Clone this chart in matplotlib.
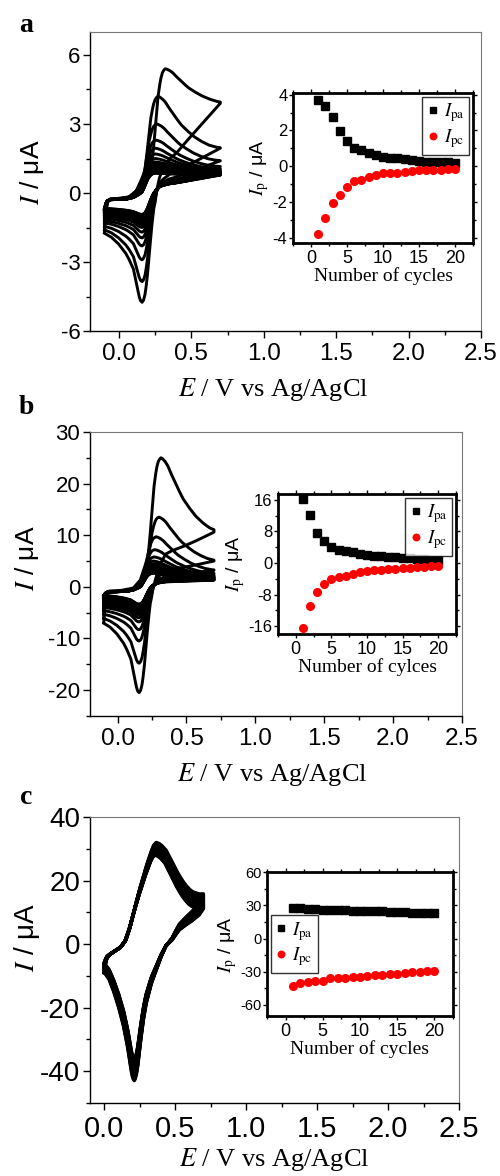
import numpy as np
import matplotlib
matplotlib.use('Agg')
import matplotlib.pyplot as plt
from matplotlib.ticker import MultipleLocator, FormatStrFormatter

plt.rcParams['font.family'] = ['Liberation Sans', 'DejaVu Sans']
plt.rcParams['mathtext.fontset'] = 'stix'
plt.rcParams['axes.unicode_minus'] = False

cycles = np.arange(1, 21)

# inset data: peak currents vs cycle number (uA)
ipa_a = [3.68, 3.37, 2.76, 1.96, 1.43, 1.01, 0.9, 0.72, 0.62, 0.51, 0.48, 0.44, 0.38, 0.33, 0.29, 0.25, 0.25, 0.22, 0.21, 0.19]
ipc_a = [-3.8, -2.88, -2.04, -1.6, -1.18, -0.82, -0.76, -0.63, -0.48, -0.4, -0.39, -0.38, -0.3, -0.26, -0.22, -0.21, -0.19, -0.19, -0.17, -0.15]
ipa_b = [16.2, 12.2, 7.7, 5.6, 4.1, 3.2, 3.1, 2.7, 2.4, 2.1, 1.9, 1.7, 1.6, 1.5, 1.4, 1.2, 1.1, 0.95, 0.85, 0.85]
ipc_b = [-16.6, -10.9, -7.3, -5.3, -4.1, -3.6, -3.2, -2.9, -2.4, -2.05, -1.7, -1.7, -1.55, -1.45, -1.35, -1.2, -1.0, -1.0, -0.85, -0.8]
ipa_c = [27.9, 27.3, 26.7, 26.4, 26.1, 26.1, 26.0, 25.5, 25.2, 24.8, 24.8, 24.5, 24.5, 24.2, 23.9, 23.6, 23.3, 23.0, 23.0, 22.7]
ipc_c = [-43.0, -40.3, -38.8, -38.5, -38.5, -36.0, -35.8, -35.2, -34.8, -34.5, -33.9, -33.3, -32.7, -32.4, -32.1, -31.2, -30.6, -30.3, -29.7, -29.4]

# CV readings per cycle: anodic peak, its potential, current at upper vertex,
# cathodic peak, current at lower vertex
cv_pa_a = [5.4, 4.2, 3.0, 2.3, 1.95, 1.7, 1.5, 1.35, 1.25, 1.17, 1.1, 1.05, 1.0, 0.97, 0.94, 0.92, 0.9, 0.88, 0.87, 0.86]
cv_epa_a = [0.32, 0.27, 0.26, 0.255, 0.25, 0.25, 0.25, 0.25, 0.25, 0.25, 0.25, 0.25, 0.25, 0.25, 0.25, 0.25, 0.25, 0.25, 0.25, 0.25]
cv_end_a = [3.9, 1.95, 1.4, 1.15, 1.05, 1.0, 0.95, 0.92, 0.9, 0.88, 0.86, 0.85, 0.84, 0.83, 0.82, 0.81, 0.8, 0.8, 0.79, 0.78]
cv_pc_a = [-4.75, -3.85, -2.9, -2.3, -1.95, -1.7, -1.5, -1.38, -1.28, -1.2, -1.14, -1.1, -1.06, -1.03, -1.0, -0.98, -0.96, -0.95, -0.94, -0.93]
cv_st_a = [-1.75, -1.6, -1.45, -1.3, -1.2, -1.1, -1.02, -0.96, -0.92, -0.88, -0.84, -0.81, -0.78, -0.76, -0.74, -0.72, -0.7, -0.69, -0.68, -0.67]

cv_pa_b = [25.0, 13.5, 9.7, 7.2, 5.8, 5.0, 4.5, 4.1, 3.8, 3.6, 3.4, 3.25, 3.1, 3.0, 2.9, 2.85, 2.8, 2.75, 2.7, 2.65]
cv_epa_b = [0.315, 0.3, 0.28, 0.27, 0.265, 0.26, 0.26, 0.26, 0.26, 0.26, 0.26, 0.26, 0.26, 0.26, 0.26, 0.26, 0.26, 0.26, 0.26, 0.26]
cv_end_b = [10.6, 5.0, 3.2, 2.6, 2.3, 2.1, 2.0, 1.9, 1.8, 1.75, 1.7, 1.65, 1.6, 1.55, 1.5, 1.45, 1.4, 1.4, 1.35, 1.3]
cv_pc_b = [-20.5, -14.8, -10.5, -8.3, -6.8, -6.0, -5.4, -5.0, -4.7, -4.4, -4.2, -4.0, -3.9, -3.8, -3.7, -3.6, -3.5, -3.45, -3.4, -3.35]
cv_st_b = [-7.0, -6.1, -5.3, -4.6, -4.0, -3.6, -3.3, -3.0, -2.8, -2.6, -2.4, -2.3, -2.2, -2.1, -2.0, -1.9, -1.8, -1.75, -1.7, -1.65]

cv_pa_c = [32.0, 31.7, 31.4, 31.1, 30.9, 30.7, 30.5, 30.3, 30.1, 29.9, 29.7, 29.5, 29.3, 29.1, 28.9, 28.7, 28.5, 28.3, 28.1, 28.0]
cv_epa_c = [0.366, 0.366, 0.365, 0.365, 0.364, 0.364, 0.363, 0.363, 0.362, 0.362, 0.361, 0.361, 0.36, 0.36, 0.36, 0.359, 0.359, 0.358, 0.358, 0.357]
cv_end_c = [15.8, 15.5, 15.2, 14.9, 14.6, 14.3, 14.0, 13.7, 13.4, 13.2, 13.0, 12.8, 12.6, 12.4, 12.2, 12.0, 11.8, 11.6, 11.4, 11.2]
cv_pc_c = [-43.0, -42.5, -42.0, -41.5, -41.0, -40.6, -40.2, -39.8, -39.4, -39.0, -38.7, -38.4, -38.1, -37.8, -37.5, -37.2, -36.9, -36.6, -36.3, -36.0]
cv_st_c = [-9.0, -8.8, -8.6, -8.4, -8.2, -8.0, -7.8, -7.6, -7.4, -7.3, -7.1, -7.0, -6.8, -6.7, -6.6, -6.5, -6.4, -6.3, -6.2, -6.1]

# wave shapes (normalised)
shape_ab = dict(
    rise_x=[-0.6, -0.3, -0.2, -0.15, -0.12, -0.1, -0.09, -0.08, -0.07, -0.06, -0.05, -0.04, -0.03, -0.02, -0.01, 0.0],
    rise_y=[0.0, 0.01, 0.03, 0.09, 0.18, 0.25, 0.3, 0.41, 0.54, 0.67, 0.79, 0.87, 0.93, 0.97, 0.99, 1.0],
    dec_x=[0.0, 0.01, 0.02, 0.03, 0.05, 0.07, 0.1, 0.13, 0.16, 0.2, 0.25, 0.3, 0.35, 0.4, 0.45, 0.6],
    dec_y=[1.0, 0.99, 0.97, 0.95, 0.89, 0.8, 0.68, 0.56, 0.45, 0.34, 0.22, 0.13, 0.06, 0.02, 0.0, 0.0],
    fall_x=[0.0, 0.01, 0.02, 0.03, 0.04, 0.05, 0.06, 0.07, 0.08, 0.1, 0.12, 0.15],
    fall_y=[1.0, 0.98, 0.93, 0.84, 0.72, 0.57, 0.42, 0.29, 0.18, 0.06, 0.01, 0.0],
    tail_x=[0.0, 0.01, 0.02, 0.04, 0.06, 0.085, 0.11, 0.16, 0.21, 0.26, 0.3],
    tail_y=[1.0, 0.98, 0.92, 0.72, 0.52, 0.4, 0.3, 0.16, 0.06, 0.0, 0.0],
)
shape_c = dict(
    rise_x=[-0.4, -0.366, -0.307, -0.248, -0.213, -0.184, -0.154, -0.118, -0.071, -0.036, -0.018, 0.0],
    rise_y=[0.0, 0.0, 0.05, 0.1, 0.16, 0.27, 0.42, 0.59, 0.79, 0.92, 0.975, 1.0],
    dec_x=[0.0, 0.02, 0.04, 0.07, 0.095, 0.117, 0.14, 0.165, 0.19, 0.212, 0.235, 0.259, 0.3, 0.4],
    dec_y=[1.0, 0.98, 0.94, 0.85, 0.72, 0.6, 0.47, 0.35, 0.24, 0.16, 0.09, 0.04, 0.0, 0.0],
    fall_x=[0.0, 0.008, 0.016, 0.025, 0.035, 0.047, 0.065, 0.083, 0.12, 0.154, 0.19, 0.224, 0.3],
    fall_y=[1.0, 0.985, 0.95, 0.89, 0.8, 0.69, 0.55, 0.44, 0.29, 0.19, 0.09, 0.02, 0.0],
    tail_x=[0.0, 0.008, 0.016, 0.025, 0.035, 0.047, 0.075, 0.106, 0.141, 0.177, 0.21, 0.3],
    tail_y=[1.0, 0.985, 0.95, 0.88, 0.79, 0.69, 0.5, 0.34, 0.19, 0.065, 0.0, 0.0],
)
wend_a = ([0.2, 0.25, 0.27, 0.3, 0.35, 0.4, 0.5, 0.6, 0.7], [0, 0, 0.1, 0.22, 0.35, 0.42, 0.62, 0.81, 1])
wend_b = ([0.2, 0.25, 0.28, 0.3, 0.35, 0.4, 0.5, 0.6, 0.7], [0, 0, 0.15, 0.35, 0.58, 0.65, 0.75, 0.87, 1])
wend_c = ([0.4, 0.44, 0.48, 0.53, 0.58, 0.625, 0.67, 0.7], [0, 0.03, 0.15, 0.4, 0.55, 0.67, 0.82, 1])


def cv_loop(e_lo, e_hi, st, lo, pa, epa, end, r0, pc, epc, shp, wend):
    e = np.linspace(e_lo, e_hi, 321)
    d = e - epa
    rise = np.interp(d, shp['rise_x'], shp['rise_y'])
    dec = np.interp(d, shp['dec_x'], shp['dec_y'])
    i_f = np.where(d <= 0, lo + (pa - lo) * rise, end + (pa - end) * dec)
    i_f = i_f + (st - lo) * np.interp(e - e_lo, [0, 0.01, 0.02, 0.04], [1, 0.4, 0.1, 0])
    er = e[::-1]
    d = er - epc
    w = np.interp(er, wend[0], wend[1])
    fall = np.interp(d, shp['fall_x'], shp['fall_y'])
    tail = np.interp(-d, shp['tail_x'], shp['tail_y'])
    i_r = np.where(d >= 0, r0 + (end - r0) * w + (pc - r0) * fall, st + (pc - st) * tail)
    return np.concatenate([e, er]), np.concatenate([i_f, i_r])


fig = plt.figure(figsize=(5, 11.76), dpi=100)

panels = [
    dict(rect=[0.18, 0.7185, 0.782, 0.2543], ins=[0.586, 0.7934, 0.36, 0.1276],
         pa=cv_pa_a, epa=cv_epa_a, end=cv_end_a, pc=cv_pc_a, st=cv_st_a, lo=-0.3, r0=0.2, epc=0.16,
         elo=-0.1, shp=shape_ab, wend=wend_a, xlim=(-0.2, 2.5), ylim=(-6, 7), ymaj=3, ymin=1.5,
         ipa=ipa_a, ipc=ipc_a, iylim=(-4.3, 4.1), iymaj=2, iymin=1, lw=2.1,
         xlab='Number of cycles', letter='a', ly=25, tick=16, xtick=17.5, ityk=12, leg='upper right',
         xlc=(0.47, -0.197), ylc=(-0.148, 0.53), ylsize=19),
    dict(rect=[0.18, 0.3912, 0.744, 0.2415], ins=[0.556, 0.4609, 0.356, 0.119],
         pa=cv_pa_b, epa=cv_epa_b, end=cv_end_b, pc=cv_pc_b, st=cv_st_b, lo=-1.0, r0=0.5, epc=0.157,
         elo=-0.1, shp=shape_ab, wend=wend_b, xlim=(-0.2, 2.5), ylim=(-25, 30), ymaj=10, ymin=5,
         ipa=ipa_b, ipc=ipc_b, iylim=(-18, 17.5), iymaj=8, iymin=4, lw=2.1,
         xlab='Number of cylces', letter='b', ly=408, tick=16, xtick=17.5, ityk=12, leg='upper right',
         xlc=(0.49, -0.205), ylc=(-0.17, 0.556), ylsize=19),
    dict(rect=[0.18, 0.0621, 0.738, 0.2432], ins=[0.534, 0.136, 0.372, 0.1224],
         pa=cv_pa_c, epa=cv_epa_c, end=cv_end_c, pc=cv_pc_c, st=cv_st_c, lo=-4.5, r0=0.0, epc=0.212,
         elo=0.0, shp=shape_c, wend=wend_c, xlim=(-0.1, 2.5), ylim=(-50, 40), ymaj=20, ymin=10,
         ipa=ipa_c, ipc=ipc_c, iylim=(-70, 60), iymaj=30, iymin=15, lw=2.4,
         xlab='Number of cycles', letter='c', ly=797, tick=20, xtick=21, ityk=10.5, leg='center left',
         xlc=(0.5, -0.198), ylc=(-0.17, 0.58), ylsize=20),
]

for p in panels:
    ax = fig.add_axes(p['rect'])
    for k in range(20):
        e, i = cv_loop(p['elo'], 0.7, p['st'][k], p['lo'], p['pa'][k], p['epa'][k], p['end'][k],
                       p['r0'], p['pc'][k], p['epc'], p['shp'], p['wend'])
        ax.plot(e, i, color='black', lw=p['lw'], solid_joinstyle='round')
    ax.set_xlim(*p['xlim'])
    ax.set_ylim(*p['ylim'])
    ax.xaxis.set_major_locator(MultipleLocator(0.5))
    ax.xaxis.set_minor_locator(MultipleLocator(0.25))
    ax.xaxis.set_major_formatter(FormatStrFormatter('%.1f'))
    ax.yaxis.set_major_locator(MultipleLocator(p['ymaj']))
    ax.yaxis.set_minor_locator(MultipleLocator(p['ymin']))
    ax.tick_params(which='major', direction='out', length=5, width=1, top=False, right=False)
    ax.tick_params(which='minor', direction='out', length=3, width=1, top=False, right=False)
    ax.tick_params(axis='y', labelsize=p['tick'], pad=2)
    ax.tick_params(axis='x', labelsize=p['xtick'])
    for s in ['top', 'right']:
        ax.spines[s].set_color('#777777')
        ax.spines[s].set_linewidth(0.8)
    for s in ['left', 'bottom']:
        ax.spines[s].set_linewidth(1.0)
    ax.set_xlabel(r'$E$ / V vs Ag/AgCl', fontsize=19, family='Liberation Serif', va='center')
    ax.xaxis.set_label_coords(*p['xlc'])
    ax.set_ylabel(r'$I$ / μA', fontsize=p['ylsize'], va='center')
    ax.yaxis.set_label_coords(*p['ylc'])
    fig.text(26 / 500, 1 - p['ly'] / 1176, p['letter'], fontsize=20, fontweight='bold',
             family='Liberation Serif', ha='center', va='center')

    ia = fig.add_axes(p['ins'])
    ia.plot(cycles, p['ipa'], 's', color='black', ms=5.5, label=r'$I_{\mathrm{pa}}$')
    ia.plot(cycles, p['ipc'], 'o', color='red', ms=5.5, mec='red', label=r'$I_{\mathrm{pc}}$')
    ia.set_xlim(-2.5, 22.5)
    ia.set_ylim(*p['iylim'])
    ia.xaxis.set_major_locator(MultipleLocator(5))
    ia.xaxis.set_minor_locator(MultipleLocator(2.5))
    ia.yaxis.set_major_locator(MultipleLocator(p['iymaj']))
    ia.yaxis.set_minor_locator(MultipleLocator(p['iymin']))
    ia.tick_params(which='major', direction='out', length=3, width=1, top=True, right=True)
    ia.tick_params(which='minor', direction='out', length=2, width=1, top=True, right=True)
    ia.tick_params(axis='y', labelsize=p['ityk'], pad=1)
    ia.tick_params(axis='x', labelsize=13, pad=2)
    for s in ia.spines.values():
        s.set_linewidth(2.0)
    ia.set_xlabel(p['xlab'], fontsize=14, family='Liberation Serif', labelpad=0)
    ia.set_ylabel(r'$I_{\mathrm{p}}$ / μA', fontsize=14, labelpad=1)
    leg = ia.legend(loc=p['leg'], fontsize=13.5, frameon=True, fancybox=False, handlelength=0.6,
                    handletextpad=0.3, borderpad=0.25, labelspacing=0.15, borderaxespad=0.2,
                    markerscale=0.85)
    leg.get_frame().set_edgecolor('black')
    leg.get_frame().set_linewidth(1.0)

fig.savefig('out.png', dpi=100)
